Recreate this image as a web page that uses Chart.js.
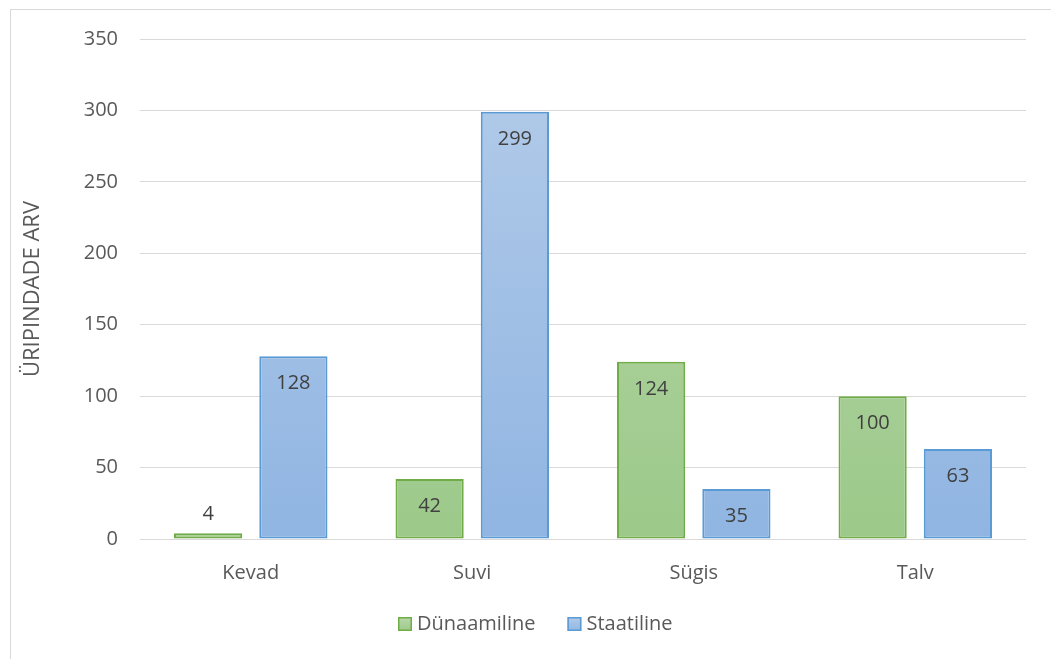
<!DOCTYPE html>
<html>
<head>
<meta charset="utf-8">
<script src="https://cdn.jsdelivr.net/npm/chart.js@4.4.1/dist/chart.umd.min.js"></script>
<style>
  html, body { margin: 0; padding: 0; background: #ffffff; }
  canvas { display: block; }
</style>
</head>
<body>
<canvas id="c" width="1051" height="659"></canvas>
<script>
// Seasons on the category axis
const seasons = ['Kevad', 'Suvi', 'Sügis', 'Talv'];
// Counts per season for each series
const dynamicValues = [4, 42, 124, 100];
const staticValues = [128, 299, 35, 63];
// Series names
const seriesNames = ['Dünaamiline', 'Staatiline'];
// Value axis ticks
const yTicks = [0, 50, 100, 150, 200, 250, 300, 350];
const yTitle = 'ÜRIPINDADE ARV';

const FONT = "'Open Sans', 'DejaVu Sans', sans-serif";
const TEXT = '#595959';
const GRID = '#d9d9d9';

const palette = {
  green: { top: '#b9d8ab', bottom: '#9cc98a', border: '#70ad47' },
  blue:  { top: '#b4cce9', bottom: '#90b5e2', border: '#5b9bd5' }
};

function verticalGradient(ctx, area, top, bottom) {
  const g = ctx.createLinearGradient(0, area.top, 0, area.bottom);
  g.addColorStop(0, top);
  g.addColorStop(1, bottom);
  return g;
}

function fillFor(p) {
  return (context) => {
    const { chart } = context;
    const area = chart.chartArea;
    if (!area) return p.bottom;
    return verticalGradient(chart.ctx, area, p.top, p.bottom);
  };
}

// Outer frame of the chart object
const framePlugin = {
  id: 'frame',
  beforeDraw(chart) {
    const ctx = chart.ctx;
    ctx.save();
    ctx.strokeStyle = GRID;
    ctx.lineWidth = 1;
    ctx.strokeRect(10.5, 9.5, chart.width + 20, chart.height + 20);
    ctx.restore();
  }
};

// Value labels: inside the top of tall bars, above very short ones
const valueLabels = {
  id: 'valueLabels',
  afterDatasetsDraw(chart) {
    const ctx = chart.ctx;
    ctx.save();
    ctx.font = '20px ' + FONT;
    ctx.fillStyle = '#404040';
    ctx.textAlign = 'center';
    ctx.textBaseline = 'middle';
    chart.data.datasets.forEach((ds, di) => {
      const meta = chart.getDatasetMeta(di);
      meta.data.forEach((bar, i) => {
        const v = ds.data[i];
        const h = bar.base - bar.y;
        const y = h > 40 ? bar.y + 27 : bar.y - 19;
        ctx.fillText(String(v), bar.x, y);
      });
    });
    ctx.restore();
  }
};

// Legend row under the axis
const legendRow = {
  id: 'legendRow',
  afterDraw(chart) {
    const ctx = chart.ctx;
    ctx.save();
    ctx.font = '20px ' + FONT;
    ctx.textBaseline = 'middle';
    const cy = 624;
    let x = 398;
    chart.data.datasets.forEach((ds) => {
      const p = ds._palette;
      const g = ctx.createLinearGradient(0, cy - 7, 0, cy + 7);
      g.addColorStop(0, p.top);
      g.addColorStop(1, p.bottom);
      ctx.fillStyle = g;
      ctx.fillRect(x, cy - 7, 14, 14);
      ctx.strokeStyle = p.border;
      ctx.lineWidth = 1.5;
      ctx.strokeRect(x + 0.75, cy - 6.25, 12.5, 12.5);
      ctx.fillStyle = TEXT;
      ctx.textAlign = 'left';
      ctx.fillText(ds.label, x + 19, cy);
      x += 19 + ctx.measureText(ds.label).width + 32;
    });
    ctx.restore();
  }
};

new Chart(document.getElementById('c'), {
  type: 'bar',
  data: {
    labels: seasons,
    datasets: [
      {
        label: seriesNames[0],
        data: dynamicValues,
        _palette: palette.green,
        backgroundColor: fillFor(palette.green),
        borderColor: palette.green.border,
        borderWidth: 2,
        borderSkipped: false
      },
      {
        label: seriesNames[1],
        data: staticValues,
        _palette: palette.blue,
        backgroundColor: fillFor(palette.blue),
        borderColor: palette.blue.border,
        borderWidth: 2,
        borderSkipped: false
      }
    ]
  },
  options: {
    responsive: false,
    animation: false,
    layout: { padding: { left: 0, right: 25, top: 39, bottom: 60 } },
    datasets: {
      bar: { categoryPercentage: 0.77, barPercentage: 0.8 }
    },
    plugins: {
      legend: { display: false },
      tooltip: { enabled: false }
    },
    scales: {
      x: {
        grid: { display: false, drawTicks: false },
        border: { display: false },
        ticks: { color: TEXT, font: { family: FONT, size: 20 }, padding: 22 },
        afterFit(scale) { scale.height = 60; }
      },
      y: {
        min: yTicks[0],
        max: yTicks[yTicks.length - 1],
        afterBuildTicks(scale) { scale.ticks = yTicks.map(v => ({ value: v })); },
        grid: { color: GRID, lineWidth: 1, drawTicks: false },
        border: { display: false },
        ticks: { color: TEXT, font: { family: FONT, size: 20 }, padding: 22 },
        title: {
          display: true,
          text: yTitle,
          color: TEXT,
          font: { family: FONT, size: 22 },
          padding: { top: 20, bottom: 0 }
        },
        afterFit(scale) { scale.width = 140; }
      }
    }
  },
  plugins: [framePlugin, valueLabels, legendRow]
});
</script>
</body>
</html>
